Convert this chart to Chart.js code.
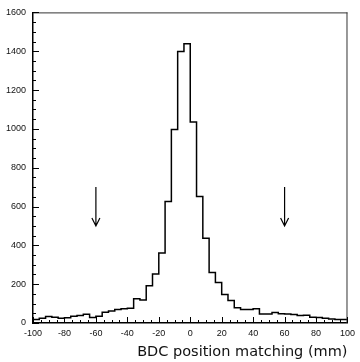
<!DOCTYPE html>
<html lang="en">
<head>
<meta charset="UTF-8">
<title>BDC position matching</title>
<script src="https://cdn.jsdelivr.net/npm/chart.js"></script>
<style>
  body { margin: 0; background: #fff; }
  .wrap { position: relative; width: 360px; height: 362px; }
</style>
</head>
<body>
<div class="wrap"><canvas id="hist"></canvas></div>
<script>
// Histogram of BDC position matching, 4 mm bins
const binEdges = [-100, -96, -92, -88, -84, -80, -76, -72, -68, -64, -60, -56, -52, -48, -44, -40, -36, -32, -28, -24,
  -20, -16, -12, -8, -4, 0, 4, 8, 12, 16, 20, 24, 28, 32, 36, 40, 44, 48, 52, 56,
  60, 64, 68, 72, 76, 80, 84, 88, 92, 96, 100];
const counts = [15, 18, 25, 33, 30, 25, 27, 35, 38, 45, 28, 35, 55, 62, 70, 74, 76, 125, 118, 192,
  252, 361, 626, 997, 1399, 1438, 1036, 652, 437, 260, 209, 147, 116, 79, 70, 70, 74, 46, 46, 54,
  48, 46, 44, 38, 40, 30, 28, 24, 20, 18];

const xTickValues = [-100, -80, -60, -40, -20, 0, 20, 40, 60, 80, 100];
const yTickValues = [0, 200, 400, 600, 800, 1000, 1200, 1400, 1600];

// the two cut markers
const arrowX = [-60, 60];
const arrowTop = 700;
const arrowTip = 500;

const xTitle = 'BDC position matching (mm)';

// step points: each bin starts at its low edge, last point closes at 100
const points = counts.map((c, i) => ({ x: binEdges[i], y: c }));
points.push({ x: binEdges[binEdges.length - 1], y: counts[counts.length - 1] });

const tickFont = { family: '"Liberation Sans", Arial, sans-serif', size: 9 };

// frame, inward ticks and arrows
const decorations = {
  id: 'decorations',
  afterDraw(chart) {
    const { ctx, chartArea: a, scales: { x, y } } = chart;
    ctx.save();
    ctx.strokeStyle = '#333';
    ctx.lineWidth = 1;
    ctx.beginPath();
    ctx.moveTo(a.left, a.top + 0.5);
    ctx.lineTo(a.right, a.top + 0.5);
    ctx.moveTo(a.right - 0.5, a.top);
    ctx.lineTo(a.right - 0.5, a.bottom);
    ctx.stroke();

    ctx.strokeStyle = '#000';
    ctx.beginPath();
    for (let v = -100; v <= 100; v += 5) {
      const px = Math.round(x.getPixelForValue(v)) + 0.5;
      const len = v % 20 === 0 ? 6 : 3;
      ctx.moveTo(px, a.bottom);
      ctx.lineTo(px, a.bottom - len);
    }
    for (let v = 0; v <= 1600; v += 50) {
      const py = Math.round(y.getPixelForValue(v)) + 0.5;
      const len = v % 200 === 0 ? 6 : 3;
      ctx.moveTo(a.left, py);
      ctx.lineTo(a.left + len, py);
    }
    ctx.stroke();

    // arrows
    ctx.lineWidth = 1.2;
    arrowX.forEach(v => {
      const px = x.getPixelForValue(v);
      const top = y.getPixelForValue(arrowTop);
      const tip = y.getPixelForValue(arrowTip);
      ctx.beginPath();
      ctx.moveTo(px, top);
      ctx.lineTo(px, tip);
      ctx.moveTo(px - 4, tip - 8);
      ctx.lineTo(px, tip);
      ctx.lineTo(px + 4, tip - 8);
      ctx.stroke();
    });
    ctx.restore();
  }
};

new Chart(document.getElementById('hist'), {
  type: 'line',
  data: {
    datasets: [{
      data: points,
      stepped: 'after',
      borderColor: '#000',
      borderWidth: 1.5,
      pointRadius: 0,
      fill: false
    }]
  },
  options: {
    responsive: true,
    maintainAspectRatio: false,
    animation: false,
    layout: { padding: { top: 7, right: 9, left: 0, bottom: 0 } },
    plugins: {
      legend: { display: false },
      tooltip: { enabled: false }
    },
    scales: {
      x: {
        type: 'linear',
        min: -100,
        max: 100,
        afterBuildTicks: s => { s.ticks = xTickValues.map(v => ({ value: v })); },
        afterFit: s => { s.height = 39; },
        grid: { display: false, drawTicks: false },
        border: { display: true, color: '#000', width: 1.5 },
        ticks: { color: '#111', font: tickFont, padding: 5, maxRotation: 0, autoSkip: false, callback: v => String(v) },
        title: {
          display: true,
          text: xTitle,
          align: 'end',
          color: '#111',
          font: { family: '"DejaVu Sans", sans-serif', size: 14.5, lineHeight: 1 },
          padding: { top: 0, bottom: 2.5 }
        }
      },
      y: {
        min: 0,
        max: 1600,
        afterBuildTicks: s => { s.ticks = yTickValues.map(v => ({ value: v })); },
        afterFit: s => { s.width = 33; },
        grid: { display: false, drawTicks: false },
        border: { display: true, color: '#000', width: 1.5 },
        ticks: { color: '#111', font: tickFont, padding: 7, autoSkip: false, callback: v => String(v) }
      }
    }
  },
  plugins: [decorations]
});
</script>
</body>
</html>
